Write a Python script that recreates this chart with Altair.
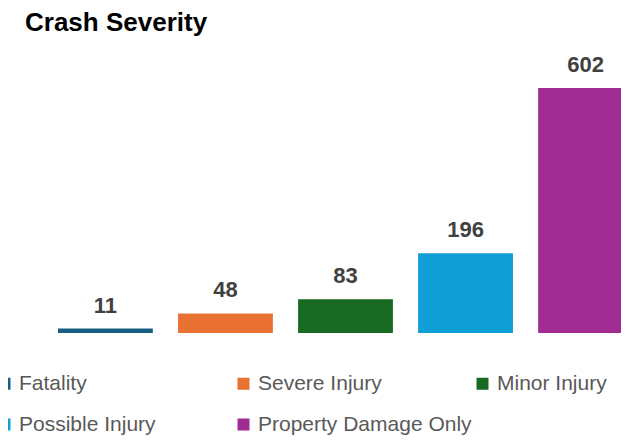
import altair as alt
import pandas as pd

categories = ["Fatality", "Severe Injury", "Minor Injury", "Possible Injury", "Property Damage Only"]
counts = [11, 48, 83, 196, 602]
colors = ["#156082", "#E97132", "#196B24", "#0F9ED5", "#A02B93"]

df = pd.DataFrame({"category": categories, "count": counts})

base = alt.Chart(df).encode(
    x=alt.X("category:N", sort=categories, axis=None,
            scale=alt.Scale(range=[50, 625], paddingInner=0.21, paddingOuter=0)),
    y=alt.Y("count:Q", axis=None, scale=alt.Scale(domain=[0, 700], nice=False)),
)

bars = base.mark_bar().encode(
    color=alt.Color(
        "category:N", sort=categories,
        scale=alt.Scale(domain=categories, range=colors),
        legend=alt.Legend(
            orient="none", legendX=-14, legendY=325, direction="horizontal",
            columns=3, gridAlign="all", columnPadding=0, rowPadding=19,
            symbolType="square", symbolSize=144, symbolStrokeWidth=0,
            labelFont="Liberation Sans", labelFontSize=21, labelColor="#595959",
            labelOffset=4, labelLimit=400, title=None,
        ),
    )
)

labels = base.mark_text(
    dy=-16, baseline="alphabetic", fontSize=22, fontWeight="bold",
    font="Liberation Sans", color="#404040",
).encode(text="count:Q")

chart = (bars + labels).properties(
    width=613, height=285,
    padding={"left": 0, "top": 40, "right": 0, "bottom": 103},
    autosize="none",
    title=alt.TitleParams(
        "Crash Severity", anchor="start", frame="group", font="Liberation Sans",
        fontSize=26, fontWeight="bold", color="#000000", dx=17, offset=-9,
        baseline="alphabetic",
    ),
).configure_view(stroke=None)

chart.save("out.html", embed_options={"renderer": "svg", "actions": False})
